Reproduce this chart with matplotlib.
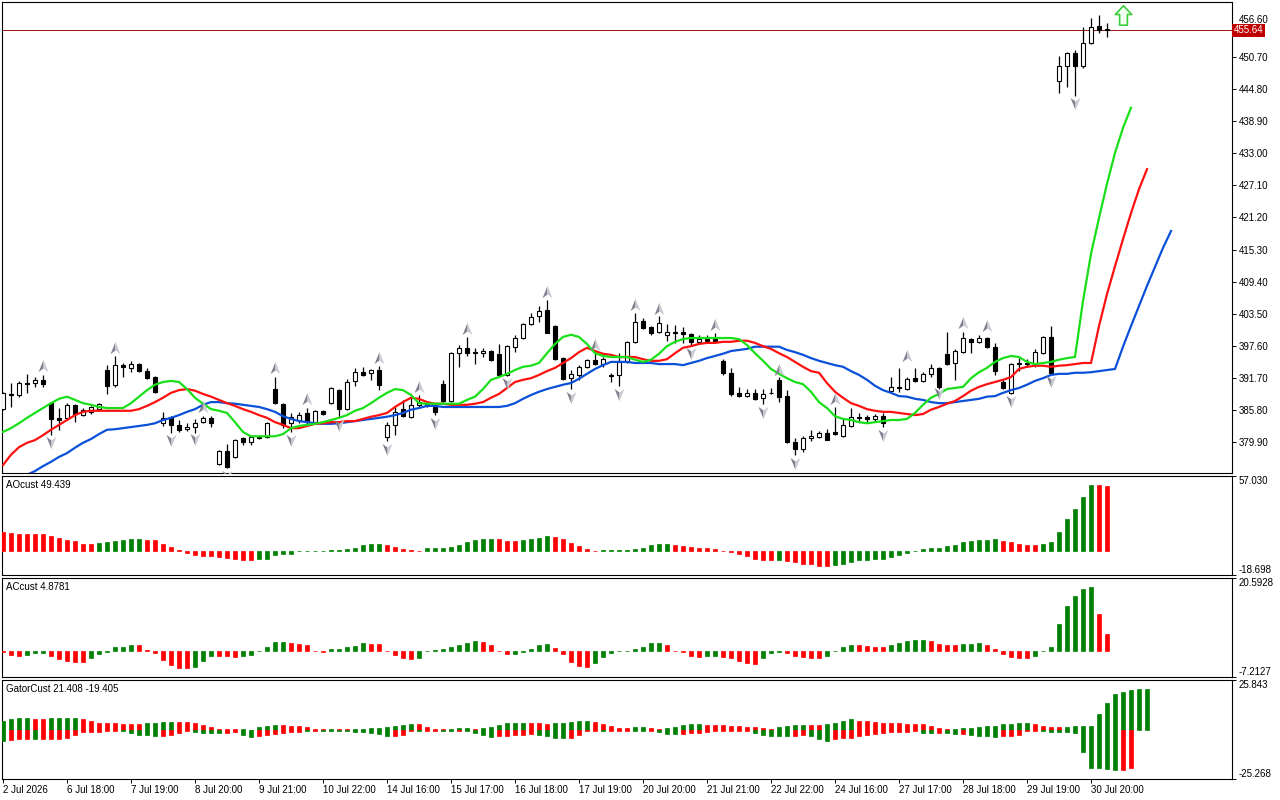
import numpy as np
import matplotlib
matplotlib.use("Agg")
import matplotlib.pyplot as plt
from matplotlib.path import Path
from matplotlib import transforms

plt.rcParams['font.family'] = ['Liberation Sans', 'DejaVu Sans']

# ---- price bars (one per period) ----
open_ = [385.9, 388.7, 388.5, 390.7, 390.7, 391.3, 387.0, 384.3, 384.3, 386.7,
         384.8, 385.4, 385.9, 393.1, 390.4, 394.0, 393.5, 394.2, 392.9, 391.8,
         383.3, 384.5, 383.0, 382.2, 382.6, 383.5, 384.3, 375.8, 378.2, 377.1,
         380.6, 379.9, 380.8, 380.8, 389.6, 386.9, 383.3, 383.9, 385.2, 383.5,
         385.6, 387.0, 389.4, 385.9, 391.1, 392.7, 392.6, 393.1, 380.8, 383.0,
         385.9, 384.5, 386.7, 386.5, 386.3, 390.5, 387.4, 396.2, 397.2, 396.4,
         396.2, 396.6, 396.1, 392.2, 397.4, 399.0, 401.6, 403.1, 404.2, 401.2,
         395.3, 391.6, 392.2, 393.7, 395.0, 394.2, 392.2, 392.2, 394.6, 398.3,
         402.1, 401.0, 400.1, 399.6, 400.1, 400.1, 399.7, 398.3, 398.8, 398.8,
         394.8, 392.6, 388.9, 388.3, 388.9, 388.0, 388.9, 391.3, 388.3, 379.9,
         378.6, 380.6, 380.8, 381.5, 381.7, 380.9, 382.8, 384.5, 384.5, 384.1,
         384.6, 389.3, 390.0, 389.6, 391.6, 391.1, 392.4, 393.5, 396.1, 394.4,
         396.4, 398.8, 398.3, 399.0, 397.4, 390.9, 388.9, 394.4, 394.4, 394.2,
         396.2, 399.2, 446.3, 449.1, 451.5, 449.1, 453.3, 456.5, 455.9]
high = [389.1, 390.7, 391.1, 392.4, 391.8, 392.2, 387.2, 386.1, 387.0, 386.9,
        386.1, 386.5, 387.0, 394.0, 395.7, 394.4, 394.8, 394.4, 393.5, 392.0,
        385.4, 384.6, 383.9, 383.3, 384.1, 384.6, 384.6, 378.4, 379.5, 380.4,
        380.8, 381.1, 381.1, 383.5, 391.8, 387.0, 385.2, 385.4, 386.1, 385.8,
        385.8, 390.0, 389.6, 391.5, 393.5, 393.7, 393.3, 393.9, 383.5, 386.3,
        387.6, 388.0, 388.5, 387.0, 386.7, 391.3, 396.4, 397.7, 399.2, 397.2,
        397.2, 396.8, 397.9, 397.7, 399.6, 401.8, 403.6, 404.9, 406.0, 401.4,
        395.5, 393.1, 394.0, 395.1, 396.4, 395.5, 392.6, 396.2, 398.5, 403.6,
        402.7, 401.2, 403.1, 401.6, 401.4, 401.0, 399.9, 399.6, 399.6, 399.9,
        395.1, 393.5, 390.0, 389.6, 389.6, 389.6, 389.8, 391.8, 389.4, 380.6,
        380.9, 382.1, 381.9, 382.2, 386.3, 384.3, 386.1, 385.2, 384.8, 385.0,
        385.2, 391.8, 393.5, 391.8, 393.5, 392.7, 394.2, 393.7, 400.1, 397.0,
        400.1, 399.0, 399.6, 399.2, 398.1, 391.3, 394.4, 395.3, 395.1, 397.0,
        399.4, 401.2, 450.9, 451.7, 452.0, 456.3, 457.9, 458.5, 457.0]
low = [385.8, 386.3, 388.2, 388.9, 390.0, 390.0, 381.1, 382.1, 384.1, 383.5,
       384.6, 385.0, 385.8, 388.7, 390.0, 391.8, 392.7, 392.7, 391.5, 388.9,
       382.8, 381.5, 381.7, 381.9, 381.5, 383.3, 382.6, 375.6, 375.1, 376.9,
       379.3, 379.3, 380.4, 380.6, 386.9, 382.4, 381.7, 383.3, 383.0, 383.3,
       384.8, 386.9, 384.5, 385.8, 390.2, 392.0, 391.3, 389.4, 380.0, 381.1,
       384.5, 384.3, 386.3, 386.3, 384.8, 387.2, 387.2, 393.7, 395.7, 394.2,
       395.5, 394.8, 392.2, 392.0, 396.4, 398.8, 401.4, 401.9, 399.9, 395.0,
       391.3, 389.6, 391.3, 393.5, 394.0, 393.7, 390.9, 390.2, 394.4, 398.1,
       400.7, 399.6, 399.9, 398.5, 398.1, 398.1, 397.5, 398.1, 398.3, 398.3,
       392.2, 388.3, 388.2, 388.2, 387.6, 386.9, 388.7, 387.2, 379.7, 377.5,
       378.0, 380.0, 380.6, 380.2, 381.1, 380.8, 382.6, 383.7, 383.5, 383.7,
       382.6, 389.1, 389.1, 389.4, 390.9, 390.9, 391.8, 389.6, 394.0, 391.3,
       396.2, 396.2, 398.1, 397.2, 392.2, 389.6, 388.7, 392.9, 393.7, 393.7,
       396.1, 392.4, 444.1, 445.2, 443.6, 448.7, 453.1, 455.2, 454.4]
close = [388.9, 388.5, 390.7, 390.5, 391.3, 390.5, 384.1, 383.9, 386.7, 385.0,
         385.8, 386.3, 386.9, 390.2, 394.0, 393.7, 394.2, 392.9, 391.6, 389.1,
         384.3, 383.0, 382.1, 382.6, 383.3, 384.3, 383.3, 378.2, 375.2, 380.2,
         379.9, 380.8, 380.6, 383.3, 387.0, 383.0, 384.5, 384.8, 383.5, 385.6,
         385.0, 389.8, 385.9, 390.9, 392.7, 392.2, 393.1, 390.4, 383.0, 385.4,
         384.6, 386.7, 387.2, 386.9, 385.4, 387.4, 396.2, 397.2, 396.2, 396.2,
         396.6, 395.0, 392.2, 397.5, 399.0, 401.6, 402.9, 404.0, 399.9, 395.1,
         391.5, 392.4, 393.7, 395.0, 394.2, 395.1, 392.0, 394.6, 398.3, 401.9,
         400.8, 399.9, 401.8, 400.1, 399.9, 399.7, 398.3, 398.8, 398.5, 398.5,
         392.6, 388.7, 388.3, 388.9, 387.8, 388.7, 388.8, 388.2, 379.9, 378.6,
         380.6, 380.9, 381.5, 380.2, 381.3, 383.0, 384.5, 384.3, 384.1, 384.6,
         383.3, 390.0, 389.8, 391.5, 391.1, 392.4, 393.5, 390.0, 394.2, 396.6,
         399.0, 398.3, 399.0, 397.4, 392.9, 389.8, 394.2, 394.2, 394.3, 396.4,
         399.2, 392.6, 449.1, 451.5, 449.1, 453.3, 456.3, 455.7, 455.64]

# ---- alligator lines (extend past the last bar) ----
jaw = [371.6, 372.3, 373.0, 373.8, 374.5, 375.4, 376.2, 377.1, 377.8, 378.8,
       379.7, 380.4, 381.3, 382.1, 382.2, 382.4, 382.6, 382.8, 383.0, 383.3,
       383.9, 384.3, 384.8, 385.4, 385.9, 386.7, 387.2, 387.2, 387.0, 386.9,
       386.7, 386.5, 386.3, 385.9, 385.4, 384.6, 384.1, 383.7, 383.5, 383.3,
       383.2, 383.2, 383.3, 383.5, 383.7, 383.9, 384.1, 384.3, 384.5, 384.8,
       385.2, 385.8, 386.1, 386.5, 386.5, 386.3, 386.3, 386.3, 386.3, 386.3,
       386.3, 386.3, 386.3, 386.5, 387.0, 387.8, 388.5, 389.1, 389.6, 390.0,
       390.4, 390.7, 391.5, 392.4, 393.3, 394.0, 394.6, 394.6, 394.6, 394.4,
       394.4, 394.4, 394.2, 394.2, 394.2, 394.0, 394.4, 394.8, 395.3, 395.7,
       396.1, 396.6, 396.8, 397.0, 397.4, 397.4, 397.4, 397.4, 396.8, 396.4,
       395.9, 395.3, 394.8, 394.4, 394.0, 393.7, 392.9, 392.2, 391.3, 390.2,
       389.4, 388.9, 388.3, 388.2, 387.8, 387.6, 387.2, 387.0, 387.0, 387.2,
       387.4, 387.6, 387.8, 388.2, 388.3, 388.9, 389.4, 389.8, 390.4, 391.1,
       391.6, 392.2, 392.4, 392.4, 392.6, 392.6, 392.7, 392.9, 393.1, 393.3,
       397.4, 401.2, 404.9, 408.6, 412.1, 415.6, 418.7]
teeth = [375.6, 377.5, 378.9, 379.7, 380.2, 381.1, 382.1, 383.0, 383.9, 384.8,
         385.4, 385.6, 385.6, 385.6, 385.6, 385.6, 385.6, 385.9, 386.5, 387.2,
         388.0, 388.9, 389.4, 389.6, 389.3, 388.7, 388.2, 387.6, 387.0, 386.5,
         385.9, 385.4, 384.8, 384.3, 383.5, 383.0, 382.4, 382.4, 382.8, 383.2,
         383.3, 383.5, 383.5, 383.7, 383.7, 384.1, 384.5, 384.8, 385.2, 386.3,
         387.2, 388.0, 387.8, 387.2, 386.9, 386.9, 386.7, 386.7, 386.7, 386.9,
         387.2, 388.0, 388.7, 389.8, 390.9, 391.3, 391.6, 392.2, 392.9, 393.5,
         394.4, 395.3, 396.4, 397.2, 396.6, 396.1, 395.9, 395.5, 395.5, 395.5,
         395.1, 394.8, 394.8, 395.1, 396.2, 397.2, 397.5, 397.9, 398.1, 398.1,
         398.3, 398.3, 398.5, 398.5, 398.1, 397.5, 397.0, 396.2, 395.5, 394.6,
         393.7, 392.9, 392.6, 390.7, 389.1, 388.0, 387.0, 386.5, 385.9, 385.6,
         385.4, 385.4, 385.2, 385.0, 384.8, 385.0, 385.8, 386.3, 386.9, 387.4,
         388.3, 389.3, 390.0, 390.5, 390.9, 391.3, 391.8, 393.3, 393.7, 393.9,
         393.9, 393.7, 393.9, 394.0, 394.2, 394.4, 394.4, 401.2, 407.1, 412.2,
         417.2, 422.0, 426.4, 430.1]
lips = [381.7, 382.4, 383.3, 384.3, 385.2, 386.1, 387.0, 387.8, 388.2, 387.6,
        387.0, 386.7, 386.3, 386.1, 386.1, 386.1, 387.0, 388.2, 389.4, 390.4,
        390.9, 391.1, 390.9, 389.6, 388.0, 386.9, 385.9, 385.6, 385.2, 383.5,
        381.7, 380.9, 380.9, 380.9, 380.9, 381.3, 382.4, 382.8, 383.0, 383.2,
        383.5, 383.9, 384.3, 384.8, 385.6, 386.1, 387.0, 388.0, 388.9, 389.6,
        389.4, 388.5, 387.0, 386.9, 386.9, 386.9, 386.9, 386.9, 387.6, 388.2,
        389.6, 391.3, 391.8, 392.4, 393.1, 393.7, 393.9, 394.4, 396.2, 397.9,
        399.2, 399.6, 399.2, 397.9, 396.2, 395.7, 395.5, 395.5, 395.5, 395.0,
        394.6, 395.0, 396.1, 397.5, 398.3, 398.8, 399.0, 399.0, 399.0, 399.0,
        399.0, 399.0, 398.8, 397.7, 396.2, 394.8, 393.3, 392.4, 391.6, 390.9,
        390.5, 389.1, 387.2, 386.1, 384.6, 384.1, 383.9, 383.5, 383.3, 383.5,
        383.7, 383.9, 383.9, 384.1, 385.2, 386.7, 388.0, 388.7, 389.6, 389.8,
        390.0, 391.6, 392.7, 393.5, 394.6, 395.3, 395.7, 395.5, 394.6, 394.2,
        394.4, 394.6, 395.0, 395.3, 395.5, 405.8, 414.5, 421.1, 427.4, 433.1,
        437.7, 441.4]

# ---- fractal marks ----
frac_up_idx = [5, 14, 25, 34, 38, 47, 52, 58, 68, 74, 79, 82, 89, 97, 104, 113, 120, 123]
frac_up_at = [393.9, 397.2, 386.3, 393.5, 387.8, 395.3, 390.0, 400.7, 407.5, 397.7,
              405.1, 404.3, 401.4, 393.1, 387.8, 395.7, 401.8, 401.2]
frac_dn_idx = [6, 21, 24, 28, 36, 42, 48, 54, 63, 71, 77, 86, 95, 99, 110, 117, 126, 131, 134]
frac_dn_at = [379.9, 380.2, 380.4, 373.6, 380.2, 383.0, 378.6, 383.3, 390.7, 388.2,
              388.7, 396.2, 385.4, 376.0, 381.1, 388.9, 387.4, 391.1, 442.3]
signal_idx = 140
signal_at = 458.5
last_price = 455.64

# ---- oscillators ----
ao = [14.2, 13.7, 12.9, 12.9, 12.9, 12.9, 11.4, 9.9, 8.1, 7.1,
      5.3, 4.8, 5.6, 6.3, 7.1, 7.9, 8.6, 9.1, 8.1, 7.9,
      5.3, 3.0, 0.3, -2.0, -3.3, -4.3, -4.3, -4.8, -5.8, -6.6,
      -7.6, -7.6, -6.8, -6.1, -3.5, -2.8, -2.3, -0.5, -0.3, -0.2,
      -0.1, 0.1, 0.5, 1.0, 2.3, 4.1, 5.1, 5.3, 4.6, 3.0,
      1.5, 0.8, -0.3, 1.8, 1.9, 2.3, 3.0, 4.6, 6.3, 7.9,
      8.5, 8.7, 8.6, 7.1, 7.0, 7.9, 8.6, 9.4, 10.9, 10.1,
      8.6, 5.6, 3.3, 1.5, -0.2, 0.3, 0.5, 0.6, 0.8, 1.5,
      2.3, 4.6, 5.2, 5.3, 4.6, 3.8, 3.0, 2.3, 1.6, 1.5,
      -0.2, -0.8, -2.3, -4.3, -6.8, -7.1, -7.6, -7.4, -7.9, -8.9,
      -10.4, -10.6, -11.8, -11.9, -10.9, -10.1, -8.6, -7.6, -7.1, -6.8,
      -6.3, -4.6, -3.5, -1.8, -0.3, 1.0, 2.0, 2.1, 3.8, 4.6,
      6.3, 7.1, 8.3, 8.4, 8.5, 7.1, 6.3, 4.8, 4.1, 4.0,
      4.8, 6.3, 14.4, 23.8, 31.9, 41.3, 50.3, 50.2, 49.439]
ao_col = ("rrrrrrrrrr" "rrggggggrr" "rrrrrrrrrr" "rrgggggggg" "ggggggggrr"
          "rrrggggggg" "ggrrrggggr" "rrrrrggggg" "ggggrrrrrr" "rrrrrrrgrr"
          "rrrrgggggg" "gggggggggg" "gggggrrrrr" "gggggggrr")

ac = [-0.3, -1.1, -1.2, -0.9, -0.5, -0.4, -1.3, -2.2, -2.8, -3.0,
      -3.1, -1.9, -0.7, -0.1, 1.1, 1.3, 1.75, 1.7, 0.4, -0.5,
      -2.4, -3.9, -4.6, -4.7, -4.4, -2.7, -1.3, -1.35, -1.4, -1.5,
      -1.3, -0.9, 0.05, 1.1, 2.55, 2.6, 2.2, 2.0, 1.7, 0.2,
      -0.2, 0.6, 0.7, 1.1, 1.5, 2.2, 2.05, 2.0, 0.2, -1.1,
      -2.0, -2.2, -1.9, 0.05, 0.4, 0.6, 1.3, 1.9, 2.2, 3.0,
      2.6, 1.7, 0.05, -0.7, -0.65, -0.2, 0.6, 1.7, 2.0, 0.9,
      -0.7, -3.0, -4.1, -4.4, -3.3, -1.7, -0.4, 0.0, 0.2, 0.7,
      1.3, 2.2, 2.25, 1.7, 0.2, -0.2, -1.3, -1.5, -1.3, -1.25,
      -1.5, -2.0, -2.6, -3.3, -3.5, -1.9, -0.6, -0.2, -0.6, -1.3,
      -1.7, -1.9, -1.95, -1.3, 0.2, 1.1, 1.9, 1.7, 1.5, 1.3,
      1.1, 1.7, 2.2, 2.8, 3.2, 3.3, 2.8, 2.0, 1.9, 1.85,
      2.0, 2.05, 2.2, 1.7, 0.7, -0.7, -1.5, -1.9, -2.0, -1.3,
      0.2, 1.1, 7.8, 12.8, 15.6, 17.6, 18.1, 10.6, 4.8781]
ac_col = ("rrrgggrrrr" "rggggggrrr" "rrrrgggrrr" "ggggggrrrr" "rgggggrrrr"
          "rrgggggggg" "rrrrgggggr" "rrrrgggggg" "gggrrrrrgg" "rrrrrgggrr"
          "rrrggggrrr" "rgggggrrrr" "gggrrrrrrg" "gggggggrr")

gator_up = [4.9, 5.5, 6.0, 6.0, 5.5, 5.5, 6.0, 6.0, 6.0, 6.0,
            5.9, 4.9, 3.9, 3.4, 3.4, 2.9, 2.9, 2.9, 3.4, 3.9,
            4.4, 4.4, 4.4, 4.4, 3.9, 2.4, 1.4, 0.3, 0.3, 0.3,
            0.3, 0.2, 1.4, 1.9, 2.4, 2.4, 1.9, 1.9, 1.4, 0.3,
            0.3, 0.3, 0.3, 0.3, 0.3, 0.3, 0.9, 0.9, 1.4, 1.9,
            2.4, 2.9, 2.9, 1.4, 0.3, 0.3, 0.3, 0.9, 0.9, 0.3,
            0.9, 1.4, 2.4, 3.4, 3.4, 3.4, 3.4, 3.4, 2.9, 3.4,
            3.9, 4.4, 4.9, 4.9, 4.4, 2.9, 1.9, 0.9, 0.9, 1.4,
            1.4, 0.9, 0.3, 0.9, 1.4, 2.4, 2.9, 2.9, 2.4, 2.4,
            2.4, 1.9, 1.9, 1.4, 1.4, 0.9, 0.3, 1.4, 1.9, 2.4,
            2.4, 2.4, 2.4, 2.9, 3.9, 4.9, 5.5, 4.9, 4.9, 4.4,
            3.9, 3.4, 3.4, 2.9, 2.9, 2.9, 1.9, 0.9, 0.3, 0.3,
            0.9, 0.9, 1.4, 1.9, 1.9, 2.9, 2.9, 3.4, 3.4, 2.9,
            1.9, 1.4, 1.4, 1.4, 1.9, 1.9, 1.9, 8.5, 14.1, 18.7,
            19.8, 20.8, 21.3, 21.408]
gator_up_col = ("ggggrrgggg" "rrrrrrrrgg" "ggrrrrrrrr" "gggggrrrrr" "rgrrgggggg"
                "ggrrrrgggr" "ggggggrrrg" "ggggrrrrrg" "grrgggggrr" "rrrrrrrggg"
                "grrggggrrr" "rrrrrrrrrg" "gggggggggr" "rrrggggggg" "gggg")
gator_dn = [-5.6, -5.3, -4.8, -4.8, -4.8, -4.8, -4.8, -4.8, -4.3, -2.7,
            -1.2, -1.2, -1.2, -0.7, -0.7, -0.7, -1.7, -2.7, -2.7, -3.2,
            -3.2, -2.7, -1.7, -0.7, -1.2, -1.7, -1.7, -1.7, -1.7, -1.2,
            -2.7, -3.7, -3.2, -2.7, -2.2, -1.7, -1.2, -1.2, -0.7, -0.7,
            -0.7, -0.7, -0.7, -0.7, -1.2, -1.2, -1.7, -2.2, -3.2, -3.2,
            -2.7, -0.7, -0.7, -0.7, -0.7, -0.7, -0.7, -0.7, -0.7, -1.7,
            -2.7, -3.7, -3.2, -3.2, -2.7, -2.7, -2.2, -2.7, -3.2, -4.3,
            -4.3, -4.1, -2.4, -0.5, -0.5, -0.5, -0.5, -0.5, -0.5, -0.5,
            -0.5, -0.5, -1.0, -2.0, -2.0, -2.0, -1.5, -1.5, -1.0, -0.5,
            -0.5, -0.5, -0.5, -0.5, -1.5, -2.6, -3.1, -3.1, -3.1, -3.1,
            -2.6, -3.1, -4.6, -5.6, -4.6, -4.1, -4.1, -3.1, -2.6, -2.0,
            -1.5, -1.0, -1.0, -1.0, -0.5, -1.5, -1.5, -1.5, -1.5, -2.0,
            -2.0, -2.6, -3.1, -3.1, -3.6, -3.1, -3.1, -2.6, -0.5, -0.5,
            -0.5, -1.0, -1.0, -1.0, -1.5, -11.2, -19.4, -19.6, -20.1, -20.4,
            -20.4, -19.405]
gator_dn_col = ("grrrgrrrrr" "rrrrrggggg" "rrrrggggrr" "ggrrrrrrgr" "gggggggggr"
                "rrgrrggrgg" "ggrrrrrggg" "grrrrgrrrg" "grgggrrrrr" "rrrrgggggr"
                "rgggrrrrrr" "rrrrrggrgg" "rggggrrrrr" "gggggggggg" "rr")

time_ticks = list(range(0, 137, 8))
time_labels = ["2 Jul 2026", "6 Jul 18:00", "7 Jul 19:00", "8 Jul 20:00", "9 Jul 21:00",
               "10 Jul 22:00", "14 Jul 16:00", "15 Jul 17:00", "16 Jul 18:00",
               "17 Jul 19:00", "20 Jul 20:00", "21 Jul 21:00", "22 Jul 22:00",
               "24 Jul 16:00", "27 Jul 17:00", "28 Jul 18:00", "29 Jul 19:00",
               "30 Jul 20:00"]
price_ticks = [379.90 + 5.9 * k for k in range(14)]

GREEN = '#008000'
RED = '#ff0000'
COLS = {'g': GREEN, 'r': RED}
XLIM = (-0.125, 153.625)
FS = 7

fig = plt.figure(figsize=(12.8, 8), dpi=100)
fig.patch.set_facecolor('white')


def pane(top_px, bottom_px):
    a = fig.add_axes([2 / 1280, 1 - bottom_px / 800, 1230 / 1280,
                      (bottom_px - top_px) / 800])
    a.set_xlim(*XLIM)
    for s in a.spines.values():
        s.set_linewidth(0.8)
        s.set_color('black')
    a.yaxis.tick_right()
    a.tick_params(axis='y', direction='out', length=3, width=0.7,
                  labelsize=FS, pad=2)
    a.tick_params(axis='x', bottom=False, labelbottom=False)
    return a


ax = pane(2, 473)
ax_ao = pane(476, 575)
ax_ac = pane(578, 677)
ax_gt = pane(680, 779)

# ---- main price pane ----
o, h, l, c = map(np.array, (open_, high, low, close))
x = np.arange(len(c))
bull = c > o
ax.vlines(x, l, h, color='black', lw=0.9, zorder=2)
lo = np.minimum(o, c)
ht = np.abs(c - o)
ax.bar(x[bull], ht[bull], bottom=lo[bull], width=0.62, facecolor='white',
       edgecolor='black', lw=0.8, zorder=3)
ax.bar(x[~bull], ht[~bull], bottom=lo[~bull], width=0.62, facecolor='black',
       edgecolor='black', lw=0.8, zorder=3)

ax.plot(np.arange(len(jaw)), jaw, color='#0a50d8', lw=1.6, zorder=4)
ax.plot(np.arange(len(teeth)), teeth, color='#ff1010', lw=1.6, zorder=5)
ax.plot(np.arange(len(lips)), lips, color='#18e018', lw=1.6, zorder=6)

# fractal arrows, two-tone halves
up_l = Path([(0, 1), (0, -0.3), (-0.75, -0.85), (0, 1)], closed=True)
up_r = Path([(0, 1), (0.75, -0.85), (0, -0.3), (0, 1)], closed=True)
dn_l = Path([(0, -1), (-0.75, 0.85), (0, 0.3), (0, -1)], closed=True)
dn_r = Path([(0, -1), (0, 0.3), (0.75, 0.85), (0, -1)], closed=True)
for idx, at, pl, pr in ((frac_up_idx, frac_up_at, up_l, up_r),
                        (frac_dn_idx, frac_dn_at, dn_l, dn_r)):
    ax.plot(idx, at, ls='none', marker=pl, ms=9.5, mfc='#80828f', mec='none', zorder=7)
    ax.plot(idx, at, ls='none', marker=pr, ms=9.5, mfc='#c9cad2', mec='none', zorder=7)

# buy signal arrow
sig = Path([(0, 1), (0.85, 0.1), (0.4, 0.1), (0.4, -1), (-0.4, -1),
            (-0.4, 0.1), (-0.85, 0.1), (0, 1)], closed=True)
ax.plot([signal_idx], [signal_at], ls='none', marker=sig, ms=14, mfc='#f2fff0',
        mec='#3ccc3c', mew=1.2, zorder=8)

ax.axhline(last_price, color='#a01010', lw=0.7, zorder=1)
ax.set_ylim(374.14, 460.88)
ax.set_yticks(price_ticks)
ax.set_yticklabels([f'{v:.2f}' for v in price_ticks])
# top scale label sits above the red price tag, as in the terminal
ax.get_yticklabels()[-1].set_va('bottom')
tr = transforms.blended_transform_factory(ax.transAxes, ax.transData)
ax.text(1.0012, last_price, f'{last_price:.2f}', transform=tr, color='white',
        fontsize=FS, va='center', ha='left', zorder=10, clip_on=False,
        bbox=dict(boxstyle='square,pad=0.15', fc='#c00000', ec='none'))


# ---- sub panes ----
def histo(a, vals, cols):
    xs = np.arange(len(vals))
    cc = [COLS[k] for k in cols]
    a.bar(xs, vals, width=0.5, color=cc, edgecolor=cc, lw=0.5, zorder=3)


def scale_labels(a, lo_v, hi_v, lo_t, hi_t):
    a.set_ylim(lo_v, hi_v)
    a.set_yticks([lo_v, hi_v])
    a.set_yticklabels([lo_t, hi_t])
    labs = a.get_yticklabels()
    labs[0].set_va('bottom')
    labs[1].set_va('top')


histo(ax_ao, ao, ao_col)
scale_labels(ax_ao, -18.698, 57.030, '-18.698', '57.030')
ax_ao.text(0.003, 0.955, 'AOcust 49.439', transform=ax_ao.transAxes,
           fontsize=FS, va='top', ha='left')

histo(ax_ac, ac, ac_col)
scale_labels(ax_ac, -7.2127, 20.5928, '-7.2127', '20.5928')
ax_ac.text(0.003, 0.955, 'ACcust 4.8781', transform=ax_ac.transAxes,
           fontsize=FS, va='top', ha='left')

histo(ax_gt, gator_up, gator_up_col)
histo(ax_gt, gator_dn, gator_dn_col)
scale_labels(ax_gt, -25.268, 25.843, '-25.268', '25.843')
ax_gt.text(0.003, 0.955, 'GatorCust 21.408 -19.405', transform=ax_gt.transAxes,
           fontsize=FS, va='top', ha='left')

ax_gt.tick_params(axis='x', bottom=True, labelbottom=True, direction='out',
                  length=3, width=0.7, labelsize=FS, pad=1.5)
ax_gt.set_xticks(time_ticks)
ax_gt.set_xticklabels(time_labels, ha='left')

fig.savefig('out.png', dpi=100)
